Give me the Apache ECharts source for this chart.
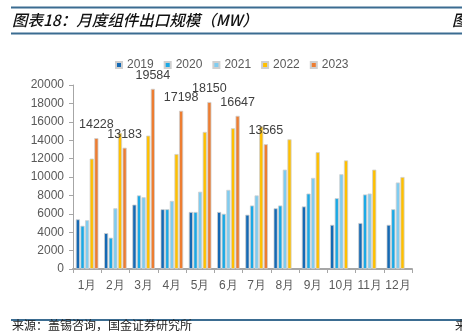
<!DOCTYPE html>
<html>
<head>
<meta charset="utf-8">
<script src="https://cdn.jsdelivr.net/npm/echarts@6/dist/echarts.min.js"></script>
<style>
html,body{margin:0;padding:0;background:#fff;}
#c{width:462px;height:331px;}
</style>
</head>
<body>
<div id="c"></div>
<script>
var categories = ['1月','2月','3月','4月','5月','6月','7月','8月','9月','10月','11月','12月'];
var seriesNames = ['2019','2020','2021','2022','2023'];
var v2019 = [5400, 3900, 7000, 6500, 6200, 6200, 5900, 6600, 6800, 4800, 5000, 4800];
var v2020 = [4700, 3400, 8000, 6500, 6200, 6000, 6900, 6900, 8200, 7700, 8100, 6500];
var v2021 = [5300, 6600, 7800, 7400, 8400, 8600, 8000, 10800, 9900, 10300, 8200, 9400];
var v2022 = [12000, 14800, 14500, 12500, 14900, 15300, 15500, 14100, 12700, 11800, 10800, 10000];
var v2023 = [14228, 13183, 19584, 17198, 18150, 16647, 13565];
var yTicks = [0, 2000, 4000, 6000, 8000, 10000, 12000, 14000, 16000, 18000, 20000];
var colors = ['#1469B4', '#1AA9E6', '#7FCCF0', '#FFC000', '#ED7D31'];

var FONT = '"Liberation Sans", Arial, sans-serif';
var CJK = '"Noto Sans CJK SC", sans-serif';
var allData = [v2019, v2020, v2021, v2022, v2023];

var series = seriesNames.map(function (n, i) {
  var s = {
    name: n,
    type: 'bar',
    data: allData[i],
    barGap: '12%',
    barCategoryGap: '20%',
    itemStyle: { color: colors[i], borderColor: '#cfcfcf', borderWidth: 0.8 }
  };
  if (i === 4) {
    s.label = {
      show: true, position: 'top', distance: 7,
      color: '#404040', fontSize: 12.5, fontFamily: FONT
    };
  }
  return s;
});

var chart = echarts.init(document.getElementById('c'));
chart.setOption({
  animation: false,
  backgroundColor: '#fff',
  color: colors,
  legend: {
    data: seriesNames,
    left: 110, top: 54,
    itemWidth: 6, itemHeight: 6, itemGap: 10,
    icon: 'rect',
    textStyle: { color: '#595959', fontSize: 12, fontFamily: FONT }
  },
  grid: { left: 73, right: 50, top: 85, bottom: 62 },
  xAxis: {
    type: 'category',
    data: categories,
    axisLine: { lineStyle: { color: '#A6A6A6', width: 2 } },
    axisTick: { show: true, length: 4, lineStyle: { color: '#A6A6A6' } },
    axisLabel: { color: '#595959', fontSize: 12, fontFamily: FONT, margin: 11, interval: 0 }
  },
  yAxis: {
    type: 'value',
    min: yTicks[0], max: yTicks[yTicks.length - 1], interval: yTicks[1] - yTicks[0],
    axisLine: { show: true, lineStyle: { color: '#A6A6A6', width: 1 } },
    axisTick: { show: true, length: 4, lineStyle: { color: '#A6A6A6' } },
    splitLine: { show: false },
    axisLabel: { color: '#595959', fontSize: 12, fontFamily: FONT, margin: 9,
      formatter: function (v) { return String(v); } }
  },
  series: series,
  graphic: [
    { type: 'line', shape: { x1: 11, y1: 7.5, x2: 462, y2: 7.5 }, style: { stroke: '#3B6C91', lineWidth: 2 } },
    { type: 'line', shape: { x1: 11, y1: 33.5, x2: 462, y2: 33.5 }, style: { stroke: '#3B6C91', lineWidth: 2 } },
    { type: 'text', x: 12, y: 20.5, style: { text: '图表18：月度组件出口规模（MW）', font: 'italic 500 15.5px ' + CJK, fill: '#111', textVerticalAlign: 'middle' } },
    { type: 'text', x: 452, y: 20.5, style: { text: '图', font: 'italic 500 15.5px ' + CJK, fill: '#111', textVerticalAlign: 'middle' } },
    { type: 'line', shape: { x1: 11, y1: 320, x2: 462, y2: 320 }, style: { stroke: '#3B6C91', lineWidth: 2 } },
    { type: 'text', x: 12, y: 325.5, style: { text: '来源：盖锡咨询，国金证券研究所', font: '12px ' + CJK, fill: '#222', textVerticalAlign: 'middle' } },
    { type: 'text', x: 455, y: 325.5, style: { text: '来', font: '12px ' + CJK, fill: '#222', textVerticalAlign: 'middle' } }
  ]
});
</script>
</body>
</html>
